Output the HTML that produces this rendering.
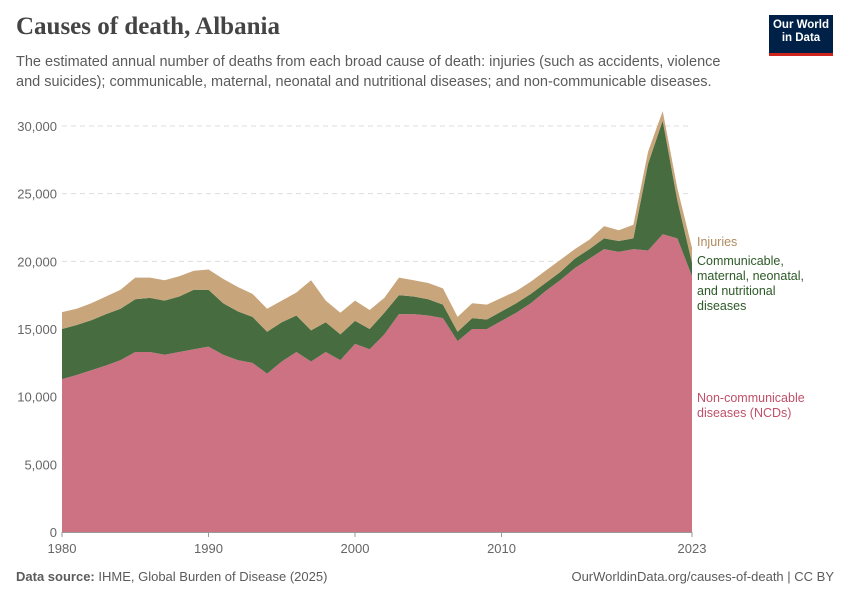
<!DOCTYPE html>
<html><head><meta charset="utf-8"><style>
body{margin:0;width:850px;height:600px;background:#fff;font-family:"Liberation Sans",sans-serif;overflow:hidden;position:relative}
.t{position:absolute}
</style></head><body>
<div class="t" style="left:16px;top:13px;font-family:'Liberation Serif',serif;font-size:25px;font-weight:bold;color:#444">Causes of death, Albania</div>
<div class="t" style="left:16px;top:52px;width:730px;font-size:14.5px;line-height:20px;color:#5b5b5b">The estimated annual number of deaths from each broad cause of death: injuries (such as accidents, violence and suicides); communicable, maternal, neonatal and nutritional diseases; and non-communicable diseases.</div>
<div class="t" style="left:769px;top:15px;width:64px;height:34px;background:#002147;border-bottom:3px solid #ce261e;color:#fff;font-size:11.5px;font-weight:bold;line-height:13px;text-align:center;padding-top:4px;box-sizing:content-box">Our World<br>in Data</div>
<svg id="c" class="t" style="left:0;top:0" width="850" height="600"></svg>
<div class="t" style="left:16px;top:569px;font-size:13px;color:#5b5b5b"><b>Data source:</b> IHME, Global Burden of Disease (2025)</div>
<div class="t" style="right:16px;top:569px;font-size:13px;color:#5b5b5b">OurWorldinData.org/causes-of-death | CC BY</div>
<script>
const years=[1980,1981,1982,1983,1984,1985,1986,1987,1988,1989,1990,1991,1992,1993,1994,1995,1996,1997,1998,1999,2000,2001,2002,2003,2004,2005,2006,2007,2008,2009,2010,2011,2012,2013,2014,2015,2016,2017,2018,2019,2020,2021,2022,2023];
const ncd=[11300,11600,11950,12300,12700,13300,13300,13100,13300,13500,13700,13100,12700,12500,11700,12600,13300,12600,13300,12700,13900,13500,14600,16100,16100,16000,15800,14100,15000,15000,15600,16200,16900,17800,18600,19500,20200,20900,20700,20900,20800,22000,21700,18900];
const cmnn=[3700,3700,3700,3800,3800,3900,4000,4000,4100,4400,4200,3800,3600,3400,3100,2900,2700,2300,2200,1900,1700,1500,1600,1400,1300,1200,1000,700,800,700,700,700,700,600,600,700,700,800,800,800,6400,8400,2800,1000];
const injuries=[1250,1200,1250,1300,1400,1600,1500,1500,1500,1400,1500,1800,1800,1700,1700,1600,1700,3700,1600,1600,1500,1400,1100,1300,1200,1200,1200,1100,1100,1100,1000,900,900,900,900,700,700,900,800,1000,900,700,900,1100];
const yTicks=[0,5000,10000,15000,20000,25000,30000];
const xTicks=[1980,1990,2000,2010,2023];
const svg=document.getElementById('c');const NS='http://www.w3.org/2000/svg';
const X=y=>62+(y-1980)*(630/43);
const Y=v=>532-v*406/30000;
function mk(t,a){const e=document.createElementNS(NS,t);for(const k in a)e.setAttribute(k,a[k]);svg.appendChild(e);return e;}
yTicks.forEach(v=>{
 if(v>0){const g=mk('line',{x1:62,x2:692,y1:Y(v),y2:Y(v),stroke:'#ddd','stroke-dasharray':'5,4'});
 
 }
 const t=mk('text',{x:57,y:Y(v)+5,'text-anchor':'end','font-size':13,fill:'#666','font-family':'Liberation Sans'});t.textContent=v.toLocaleString('en-US');
 
 
});
const b0=years.map(()=>0),b1=ncd.slice(),b2=ncd.map((v,i)=>v+cmnn[i]),b3=b2.map((v,i)=>v+injuries[i]);
function area(lo,hi,col,name){
 let d='M'+years.map((y,i)=>X(y)+','+Y(hi[i])).join('L');
 for(let i=years.length-1;i>=0;i--)d+='L'+X(years[i])+','+Y(lo[i]);
 const p=mk('path',{d:d+'Z',fill:col});
 
 
}
area(b0,b1,'#cc7282','area-ncd');area(b1,b2,'#476c40','area-cmnn');area(b2,b3,'#c8a57a','area-injuries');
const ax=mk('line',{x1:62,x2:692,y1:532.5,y2:532.5,stroke:'#999'});


xTicks.forEach(y=>{
 mk('line',{x1:X(y),x2:X(y),y1:532,y2:537,stroke:'#999'});
 const t=mk('text',{x:X(y),y:553,'text-anchor':'middle','font-size':13,fill:'#666','font-family':'Liberation Sans'});t.textContent=y;
 
 
});
function lab(lines,y,col,name){const t=mk('text',{x:697,y:y,'font-size':12.5,fill:col,'font-family':'Liberation Sans'});
 lines.forEach((l,i)=>{const s=document.createElementNS(NS,'tspan');s.setAttribute('x',697);s.setAttribute('dy',i?15:0);s.textContent=l;t.appendChild(s);});
 
 }
lab(['Injuries'],246,'#b08c5f','legend-injuries');
lab(['Communicable,','maternal, neonatal,','and nutritional','diseases'],265,'#2d5a27','legend-cmnn');
lab(['Non-communicable','diseases (NCDs)'],402,'#c05068','legend-ncd');
</script>
</body></html>
